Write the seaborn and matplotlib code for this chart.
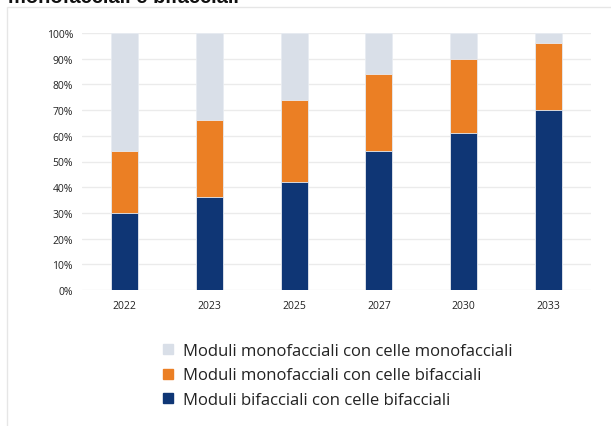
import matplotlib
matplotlib.use("Agg")
import matplotlib.pyplot as plt
from matplotlib.patches import Rectangle
from matplotlib.lines import Line2D
import seaborn as sns
import pandas as pd
import numpy as np

years = ["2022", "2023", "2025", "2027", "2030", "2033"]
bifacciali = [30, 36, 42, 54, 61, 70]
mono_celle_bi = [24, 30, 32, 30, 29, 26]
mono_celle_mono = [46, 34, 26, 16, 10, 4]
series_names = [
    "Moduli monofacciali con celle monofacciali",
    "Moduli monofacciali con celle bifacciali",
    "Moduli bifacciali con celle bifacciali",
]
yticks = [0, 10, 20, 30, 40, 50, 60, 70, 80, 90, 100]
title = "monofacciali e bifacciali"

colors = ["#D9DFE8", "#EB7F24", "#0F3675"]

sns.set_theme(style="white")
plt.rcParams["font.family"] = ["Open Sans", "DejaVu Sans"]

df = pd.DataFrame({
    "year": years,
    "blue": bifacciali,
    "orange": mono_celle_bi,
    "light": mono_celle_mono,
})
df["c_blue"] = df["blue"]
df["c_orange"] = df["blue"] + df["orange"]
df["c_light"] = df["c_orange"] + df["light"]

fig = plt.figure(figsize=(6.11, 4.27), dpi=100)
ax = fig.add_axes([82 / 611, 1 - 291 / 427, (591 - 82) / 611, (291 - 34) / 427])

for col, c in zip(["c_light", "c_orange", "c_blue"], colors):
    sns.barplot(data=df, x="year", y=col, color=c, width=0.32, ax=ax,
                saturation=1, edgecolor="#E8ECF2", linewidth=0.6, zorder=3)

ax.set_ylim(0, 100)
ax.set_xlim(-0.5, 5.5)
ax.set_yticks(yticks)
ax.set_yticklabels([f"{v}%" for v in yticks], fontsize=7.5, color="#222222")
ax.tick_params(axis="x", labelsize=7.5, colors="#222222", length=0, pad=7)
ax.tick_params(axis="y", length=0, pad=6.5)
ax.set_xlabel("")
ax.set_ylabel("")
ax.yaxis.grid(True, color="#EBEBEB", linewidth=1, zorder=0)
ax.set_axisbelow(True)
for s in ax.spines.values():
    s.set_visible(False)

# outer frame
frame = Rectangle((7 / 611, -0.05), 1.2, 1 - 8 / 427 + 0.05, transform=fig.transFigure,
                  fill=False, edgecolor="#E6E6E6", linewidth=1)
fig.patches.append(frame)

fig.text(8 / 611, 1 - 3 / 427, title, fontsize=14.5, fontweight="bold",
         va="baseline", ha="left", color="#111111", family="Liberation Sans")

handles = [Line2D([0], [0], marker="s", linestyle="none", markersize=7,
                  markerfacecolor=c, markeredgecolor=c) for c in colors]
fig.legend(handles, series_names, loc="upper left",
           bbox_to_anchor=(145 / 611, 1 - 329 / 427), frameon=False,
           fontsize=12, handletextpad=0.4, labelspacing=0.5,
           labelcolor="#222222", handlelength=1.0)

fig.savefig("out.png", dpi=100)
